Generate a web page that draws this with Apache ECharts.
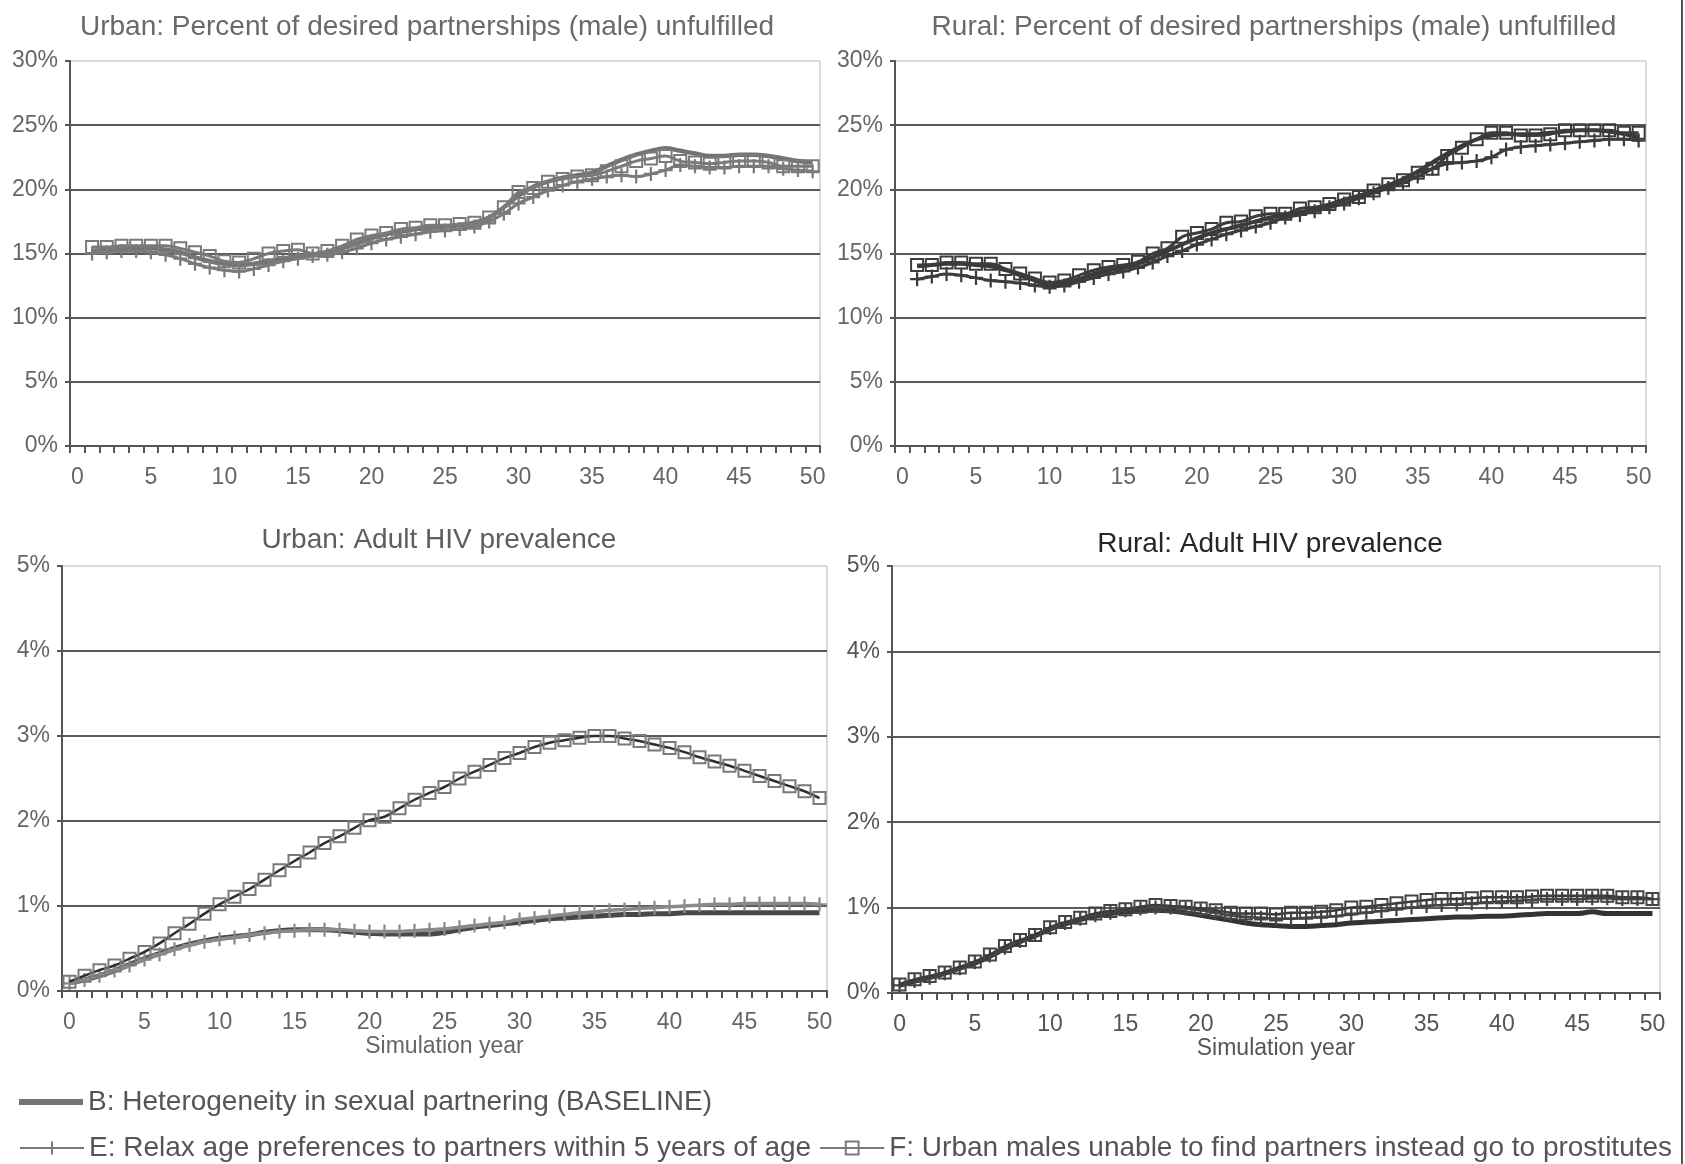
<!DOCTYPE html>
<html><head><meta charset="utf-8">
<style>html,body{margin:0;padding:0;background:#fff}#chart{width:1685px;height:1164px}</style>
<script src="https://cdn.jsdelivr.net/npm/echarts@6/dist/echarts.min.js"></script>
</head><body><div id="chart"></div>
<script>
// simulation years 0..50 (category axis, labels every 5)
const years = Array.from({length: 51}, (_, i) => String(i));

const nameB = 'B: Heterogeneity in sexual partnering (BASELINE)';
const nameE = 'E: Relax age preferences to partners within 5 years of age';
const nameF = 'F: Urban males unable to find partners instead go to prostitutes';

// Urban: % of desired partnerships (male) unfulfilled, years 0..50 (no value at 0)
const urbanUnfulB = [null,
  15.2,15.3,15.4,15.4,15.4,15.3,15.1,14.7,14.4,14.2,
  14.1,14.2,14.4,14.6,14.8,14.9,15.1,15.4,15.8,16.2,
  16.5,16.7,16.9,17.0,17.1,17.2,17.4,17.8,18.6,19.5,
  20.2,20.6,20.9,21.1,21.3,21.8,22.3,22.7,23.0,23.2,
  23.0,22.8,22.6,22.6,22.7,22.7,22.6,22.4,22.2,22.1];
const urbanUnfulE = [null,
  15.0,15.1,15.2,15.2,15.1,14.9,14.6,14.2,13.9,13.7,
  13.6,13.8,14.1,14.4,14.6,14.8,14.9,15.1,15.4,15.8,
  16.1,16.3,16.5,16.7,16.8,16.9,17.1,17.5,18.1,18.9,
  19.4,19.9,20.3,20.6,20.8,21.0,21.1,21.0,21.2,21.5,
  21.9,21.8,21.7,21.7,21.8,21.8,21.8,21.6,21.5,21.4];
const urbanUnfulF = [null,
  15.5,15.5,15.6,15.6,15.6,15.6,15.4,15.1,14.8,14.4,
  14.3,14.6,15.0,15.2,15.3,15.0,15.2,15.6,16.1,16.4,
  16.6,16.9,17.0,17.2,17.2,17.3,17.4,17.8,18.6,19.8,
  20.1,20.6,20.8,21.0,21.1,21.4,21.8,22.2,22.4,22.6,
  22.2,22.1,22.0,22.1,22.2,22.2,22.1,21.8,21.8,21.8];

// Rural: % of desired partnerships (male) unfulfilled
const ruralUnfulB = [null,
  14.0,14.1,14.2,14.2,14.1,14.0,13.7,13.3,12.9,12.6,
  12.7,13.0,13.4,13.7,13.9,14.2,14.7,15.2,15.7,16.2,
  16.6,16.9,17.2,17.5,17.8,18.0,18.2,18.5,18.8,19.2,
  19.5,19.9,20.3,20.8,21.4,22.1,22.8,23.4,23.9,24.2,
  24.3,24.3,24.3,24.4,24.5,24.6,24.6,24.5,24.3,24.1];
const ruralUnfulE = [null,
  13.0,13.2,13.4,13.3,13.1,12.9,12.8,12.7,12.5,12.4,
  12.5,12.8,13.1,13.4,13.6,13.9,14.3,14.8,15.2,15.7,
  16.1,16.5,16.8,17.1,17.4,17.8,18.0,18.3,18.6,18.9,
  19.3,19.7,20.1,20.5,21.0,21.6,22.0,22.1,22.2,22.5,
  23.1,23.3,23.4,23.5,23.6,23.7,23.8,23.9,23.9,23.8];
const ruralUnfulF = [null,
  14.1,14.1,14.3,14.3,14.2,14.2,13.8,13.45,13.05,12.75,
  12.9,13.3,13.7,13.95,14.1,14.35,15.0,15.4,16.3,16.6,
  16.9,17.4,17.5,17.9,18.1,18.1,18.5,18.6,18.85,19.2,
  19.4,19.9,20.4,20.7,21.3,21.6,22.6,23.25,23.9,24.4,
  24.4,24.2,24.2,24.3,24.6,24.6,24.6,24.6,24.4,24.4];

// Urban: adult HIV prevalence (%), years 0..50
const urbanHivB = [
  0.10,0.13,0.18,0.24,0.31,0.38,0.44,0.50,0.55,0.59,
  0.62,0.64,0.66,0.69,0.71,0.72,0.72,0.72,0.71,0.69,
  0.68,0.67,0.67,0.67,0.67,0.69,0.72,0.75,0.77,0.79,
  0.81,0.83,0.85,0.86,0.87,0.88,0.89,0.90,0.90,0.91,
  0.91,0.92,0.92,0.92,0.92,0.92,0.92,0.92,0.92,0.92,0.92];
const urbanHivE = [
  0.09,0.13,0.18,0.24,0.30,0.37,0.43,0.49,0.54,0.58,
  0.61,0.63,0.66,0.68,0.70,0.71,0.72,0.72,0.72,0.71,
  0.70,0.70,0.70,0.71,0.72,0.73,0.75,0.77,0.79,0.81,
  0.84,0.86,0.88,0.90,0.92,0.93,0.95,0.96,0.97,0.98,
  0.99,1.00,1.01,1.02,1.02,1.03,1.03,1.03,1.03,1.03,1.02];
const urbanHivF = [
  0.11,0.18,0.245,0.30,0.38,0.46,0.56,0.68,0.79,0.91,
  1.02,1.11,1.20,1.31,1.42,1.53,1.63,1.74,1.82,1.92,
  2.01,2.05,2.15,2.25,2.33,2.40,2.50,2.58,2.66,2.74,
  2.80,2.87,2.92,2.95,2.98,3.00,3.00,2.97,2.94,2.90,
  2.86,2.81,2.75,2.70,2.65,2.59,2.53,2.47,2.41,2.35,2.27];

// Rural: adult HIV prevalence (%)
const ruralHivB = [
  0.09,0.14,0.18,0.23,0.29,0.35,0.43,0.52,0.60,0.67,
  0.75,0.81,0.86,0.90,0.93,0.95,0.96,0.97,0.96,0.94,
  0.91,0.88,0.85,0.82,0.80,0.79,0.78,0.78,0.79,0.80,
  0.82,0.83,0.84,0.85,0.86,0.87,0.88,0.89,0.89,0.90,
  0.90,0.91,0.92,0.93,0.93,0.93,0.95,0.93,0.93,0.93,0.93];
const ruralHivE = [
  0.09,0.14,0.18,0.23,0.29,0.36,0.44,0.53,0.61,0.68,
  0.76,0.82,0.87,0.91,0.94,0.97,0.99,1.00,1.00,0.99,
  0.97,0.94,0.91,0.89,0.88,0.87,0.87,0.88,0.89,0.90,
  0.92,0.94,0.96,0.98,1.00,1.02,1.03,1.04,1.05,1.06,
  1.07,1.08,1.09,1.10,1.10,1.10,1.11,1.11,1.10,1.10,1.10];
const ruralHivF = [
  0.10,0.16,0.20,0.24,0.30,0.37,0.45,0.55,0.62,0.68,
  0.77,0.83,0.88,0.93,0.96,0.98,1.01,1.03,1.02,1.01,
  0.99,0.97,0.94,0.93,0.93,0.92,0.94,0.94,0.95,0.97,
  1.00,1.01,1.03,1.05,1.07,1.09,1.10,1.10,1.11,1.12,
  1.12,1.12,1.13,1.14,1.14,1.14,1.14,1.14,1.12,1.12,1.10];

const FONT = '"Liberation Sans", Arial, sans-serif';
const PLUS = 'path://M4.2,0H5.8V4.2H10V5.8H5.8V10H4.2V5.8H0V4.2H4.2Z';

const panels = [
  { title: 'Urban: Percent of desired partnerships (male) unfulfilled', tx: 422, ty: 8, titleColor: '#6a6a6a',
    grid: { left: 70, top: 61, width: 750, height: 385 }, max: 30, interval: 5, labelColor: '#666', axisName: '',
    data: [urbanUnfulB, urbanUnfulE, urbanUnfulF],
    col: { B: '#737373', E: '#7a7a7a', Eline: '#7a7a7a', F: '#7a7a7a', Fline: '#7a7a7a' }, wB: 4.5, wE: 3, wF: 3 },
  { title: 'Rural: Percent of desired partnerships (male) unfulfilled', tx: 1269, ty: 8, titleColor: '#6a6a6a',
    grid: { left: 895, top: 61, width: 751, height: 385 }, max: 30, interval: 5, labelColor: '#666', axisName: '',
    data: [ruralUnfulB, ruralUnfulE, ruralUnfulF],
    col: { B: '#393939', E: '#3c3c3c', Eline: '#3c3c3c', F: '#3c3c3c', Fline: '#3c3c3c' }, wB: 4, wE: 3, wF: 3 },
  { title: 'Urban: Adult HIV prevalence', tx: 434, ty: 521, titleColor: '#5e5e5e',
    grid: { left: 62, top: 566, width: 765, height: 425 }, max: 5, interval: 1, labelColor: '#666', axisName: 'Simulation year',
    data: [urbanHivB, urbanHivE, urbanHivF],
    col: { B: '#484848', E: '#8a8a8a', Eline: '#8a8a8a', F: '#7a7a7a', Fline: '#2e2e2e' }, wB: 5, wE: 3.5, wF: 2.5 },
  { title: 'Rural: Adult HIV prevalence', tx: 1265, ty: 525, titleColor: '#262626',
    grid: { left: 892, top: 566, width: 768, height: 427 }, max: 5, interval: 1, labelColor: '#555', axisName: 'Simulation year',
    data: [ruralHivB, ruralHivE, ruralHivF],
    col: { B: '#333', E: '#444', Eline: '#444', F: '#444', Fline: '#3a3a3a' }, wB: 5, wE: 2.5, wF: 2.5 }
];

const option = {
  backgroundColor: '#fff',
  animation: false,
  textStyle: { fontFamily: FONT },
  title: panels.map(p => ({
    text: p.title, left: p.tx, top: p.ty, textAlign: 'center',
    textStyle: { fontFamily: FONT, fontSize: 28, fontWeight: 'normal', color: p.titleColor }
  })),
  grid: panels.map(p => Object.assign({ show: true, borderColor: '#b5b5b5', borderWidth: 1, backgroundColor: 'transparent' }, p.grid)),
  xAxis: panels.map((p, i) => ({
    type: 'category', gridIndex: i, data: years, boundaryGap: true,
    name: p.axisName, nameLocation: 'middle', nameGap: 44,
    nameTextStyle: { fontFamily: FONT, fontSize: 23, color: p.labelColor },
    axisLine: { lineStyle: { color: '#555', width: 2 } },
    axisTick: { show: true, interval: 0, length: 7, lineStyle: { color: '#555', width: 2 } },
    axisLabel: { interval: 4, color: p.labelColor, fontSize: 23, fontFamily: FONT, margin: 20 },
    splitLine: { show: false }
  })),
  yAxis: panels.map((p, i) => ({
    type: 'value', gridIndex: i, min: 0, max: p.max, interval: p.interval,
    axisLine: { show: true, lineStyle: { color: '#555', width: 2 } },
    axisTick: { show: true, length: 5, lineStyle: { color: '#555', width: 2 } },
    axisLabel: { formatter: '{value}%', color: p.labelColor, fontSize: 23, fontFamily: FONT, margin: 12 },
    splitLine: { show: true, showMaxLine: false, lineStyle: { color: '#5a5a5a', width: 2 } }
  })),
  legend: [
    { data: [{ name: nameB, icon: 'rect' }], left: 14, top: 1083, itemWidth: 64, itemHeight: 6, itemGap: 10,
      textStyle: { fontFamily: FONT, fontSize: 28, color: '#555' } },
    { data: [nameE, nameF], left: 14, top: 1129, itemWidth: 64, itemHeight: 16, itemGap: 8,
      textStyle: { fontFamily: FONT, fontSize: 28, color: '#555' } }
  ],
  series: [],
  graphic: [
    { type: 'line', shape: { x1: 1682, y1: 0, x2: 1682, y2: 1164 }, style: { stroke: '#555', lineWidth: 2 } }
  ]
};

panels.forEach((p, i) => {
  const [b, e, f] = p.data;
  option.series.push({
    name: nameB, type: 'line', xAxisIndex: i, yAxisIndex: i, data: b, smooth: 0.4,
    showSymbol: false, symbol: 'none', z: 3,
    lineStyle: { color: p.col.B, width: p.wB }, itemStyle: { color: p.col.B }
  });
  option.series.push({
    name: nameE, type: 'line', xAxisIndex: i, yAxisIndex: i, data: e, smooth: 0.4,
    symbol: PLUS, symbolSize: 14, showAllSymbol: true, z: 4,
    lineStyle: { color: p.col.Eline, width: p.wE }, itemStyle: { color: p.col.E, borderWidth: 0 }
  });
  option.series.push({
    name: nameF, type: 'line', xAxisIndex: i, yAxisIndex: i, data: f, smooth: 0.4,
    symbol: 'rect', symbolSize: 12, showAllSymbol: true, z: 5,
    lineStyle: { color: p.col.Fline, width: p.wF },
    itemStyle: { color: 'rgba(255,255,255,0)', borderColor: p.col.F, borderWidth: 2 }
  });
});

const chart = echarts.init(document.getElementById('chart'));
chart.setOption(option);
</script></body></html>
